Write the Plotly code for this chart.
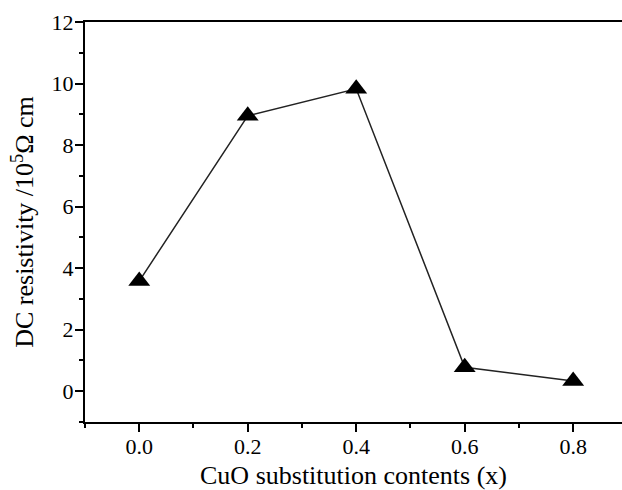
import plotly.graph_objects as go

x_vals = [0.0, 0.2, 0.4, 0.6, 0.8]
y_vals = [3.58, 8.95, 9.83, 0.78, 0.33]
x_ticks = [0.0, 0.2, 0.4, 0.6, 0.8]
x_ticklabels = ["0.0", "0.2", "0.4", "0.6", "0.8"]
y_ticks = [0, 2, 4, 6, 8, 10, 12]

fig = go.Figure()
fig.add_trace(go.Scatter(
    x=x_vals, y=y_vals, mode="lines+markers",
    line=dict(color="#222222", width=1.5),
    marker=dict(symbol="triangle-up", size=19, color="black"),
    showlegend=False,
))

font_family = "Liberation Serif, Times New Roman, serif"
fig.update_layout(
    width=622, height=490,
    margin=dict(l=85, r=0, t=22, b=68),
    paper_bgcolor="white", plot_bgcolor="white",
    font=dict(family=font_family, color="black", size=22),
    xaxis=dict(
        range=[-0.1, 0.89],
        tickvals=x_ticks, ticktext=x_ticklabels,
        ticks="outside", ticklen=8, tickwidth=2, tickcolor="black",
        minor=dict(dtick=0.1, ticks="outside", ticklen=4, tickwidth=2, tickcolor="black"),
        showline=True, linecolor="black", linewidth=2, mirror=True,
        showgrid=False, zeroline=False,
        tickfont=dict(size=22),
        ticklabelstandoff=-4,
        title=dict(text="CuO substitution contents (x)", font=dict(size=26), standoff=10),
    ),
    yaxis=dict(
        range=[-1, 12],
        tickvals=y_ticks,
        ticks="outside", ticklen=8, tickwidth=2, tickcolor="black",
        minor=dict(dtick=1, ticks="outside", ticklen=4, tickwidth=2, tickcolor="black"),
        showline=True, linecolor="black", linewidth=2, mirror=False,
        showgrid=False, zeroline=False,
        tickfont=dict(size=22),
        ticklabelstandoff=-3,
        title=dict(text="DC resistivity /10<sup>5</sup>Ω cm", font=dict(size=26), standoff=10),
    ),
)

fig.write_html("out.html")
